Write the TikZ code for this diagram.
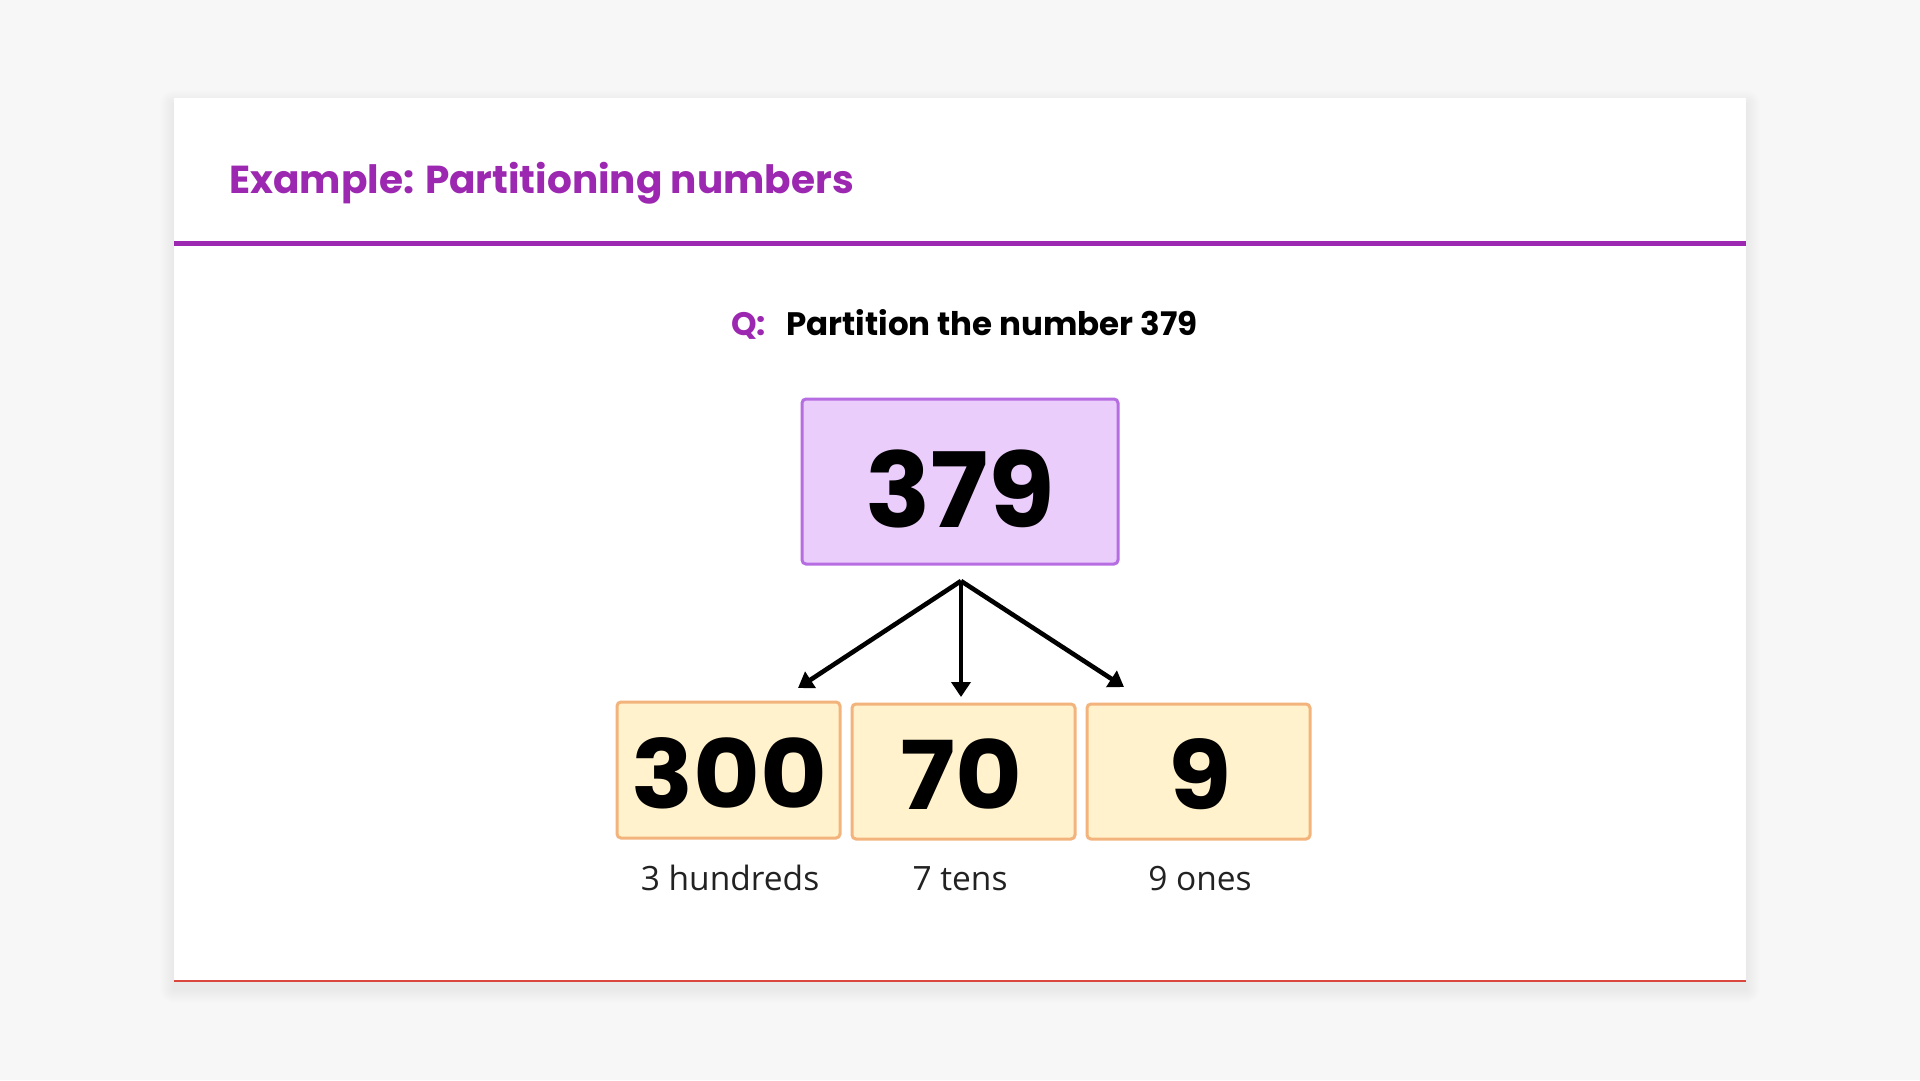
\documentclass[tikz,border=0pt]{standalone}
\usepackage{graphicx}
\usepackage{fontspec}
\setmainfont{Poppins}
\newfontfamily\labelfont{Open Sans}
\usetikzlibrary{arrows.meta}
\definecolor{bgc}{HTML}{F7F7F7}
\definecolor{purp}{HTML}{9C27B0}
\definecolor{lilacfill}{HTML}{EBCDFB}
\definecolor{lilacdraw}{HTML}{B66DE2}
\definecolor{yelfill}{HTML}{FFF2CC}
\definecolor{yeldraw}{HTML}{F2B47C}
\definecolor{redline}{HTML}{D9473F}
\definecolor{labelgray}{HTML}{222222}
\tikzset{
  bigbox/.style={draw=lilacdraw, fill=lilacfill, line width=3pt, rounded corners=4pt, inner sep=0pt},
  partbox/.style={draw=yeldraw, fill=yelfill, line width=3pt, rounded corners=4pt, inner sep=0pt},
  bignum/.style={font=\fontsize{104}{104}\selectfont\bfseries, anchor=base, inner sep=0pt},
  partnum/.style={font=\fontsize{95}{95}\selectfont\bfseries, anchor=base, inner sep=0pt},
  partlabel/.style={font=\labelfont\fontsize{33.5}{33.5}\selectfont, text=labelgray, anchor=base, inner sep=0pt},
  splitarrow/.style={-{Triangle[width=19pt,length=15pt]}, line width=4.6pt, black},
}
\begin{document}
\begin{tikzpicture}[x=1pt,y=-1pt]
\useasboundingbox (0,0) rectangle (1920,1080);
\fill[bgc] (0,0) rectangle (1920,1080);
% card shadow
\foreach \i in {1,...,14}{
  \fill[black, opacity=0.0035, rounded corners=\i pt] (174-\i,98-\i+6) rectangle (1746+\i,981+\i+8);
}
\fill[white] (174,98) rectangle (1746,981);
\draw[redline, line width=1.5pt] (174,981) -- (1746,981);
% title
\node[anchor=base west, inner sep=0pt, text=purp, font=\fontsize{39}{39}\selectfont\bfseries] (title) at (229,193) {Example: Partitioning numbers};
\fill[purp] (174,241) rectangle (1746,246);
% question
\node[anchor=base west, inner sep=0pt, text=purp, font=\fontsize{32.5}{32.5}\selectfont\bfseries] (qmark) at (731,335) {Q:};
\node[anchor=base west, inner sep=0pt, text=black, font=\fontsize{32.5}{32.5}\selectfont\bfseries] (qtext) at (786,335) {Partition the number 379};
% boxes
\node[bigbox, minimum width=316pt, minimum height=165pt] (top) at (960,481.5) {};
\node[bignum] (topnum) at (960,527) {\scalebox{1.04}[1]{379}};
\node[partbox, minimum width=223pt, minimum height=136pt] (hund) at (728.5,770) {};
\node[partbox, minimum width=223pt, minimum height=135pt] (tens) at (963.5,771.5) {};
\node[partbox, minimum width=223pt, minimum height=135pt] (ones) at (1198.5,771.5) {};
\node[partnum] (hundnum) at (729,808) {\scalebox{1.08}[1]{300}};
\node[partnum] (tensnum) at (961,809) {\scalebox{1.08}[1]{70}};
\node[partnum] (onesnum) at (1200,809) {\scalebox{1.08}[1]{9}};
\node[partlabel] (hundlab) at (730,890) {3 hundreds};
\node[partlabel] (tenslab) at (960,890) {7 tens};
\node[partlabel] (oneslab) at (1200,890) {9 ones};
% arrows
\coordinate (fork) at (961,581);
\coordinate (endh) at (798,688);
\coordinate (endt) at (961,697);
\coordinate (endo) at (1124,687);
\draw[splitarrow] (fork) -- (endh);
\draw[splitarrow] (fork) -- (endt);
\draw[splitarrow] (fork) -- (endo);
\end{tikzpicture}
\end{document}
